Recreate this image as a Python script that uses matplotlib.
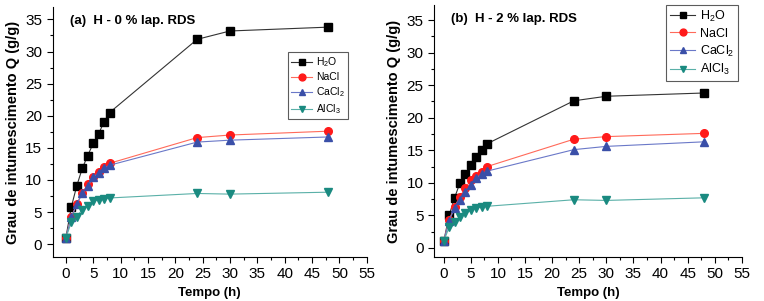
import matplotlib
matplotlib.use('Agg')
import matplotlib.pyplot as plt
from matplotlib.ticker import MultipleLocator

plt.rcParams['font.family'] = ['Liberation Sans', 'DejaVu Sans']
plt.rcParams['mathtext.default'] = 'regular'

# Time points (h)
tempo = [0, 1, 2, 3, 4, 5, 6, 7, 8, 24, 30, 48]

# Panel (a): H - 0 % lap. RDS
a_h2o = [1.0, 5.8, 9.1, 11.8, 13.8, 15.7, 17.2, 19.1, 20.5, 31.9, 33.2, 33.8]
a_nacl = [1.0, 4.2, 6.3, 8.0, 9.3, 10.5, 11.2, 12.0, 12.6, 16.6, 17.0, 17.6]
a_cacl2 = [1.0, 4.2, 6.2, 7.9, 9.0, 10.4, 11.1, 11.8, 12.3, 15.9, 16.2, 16.7]
a_alcl3 = [1.0, 3.4, 4.3, 5.4, 6.0, 6.7, 6.9, 7.0, 7.2, 7.9, 7.8, 8.1]

# Panel (b): H - 2 % lap. RDS
b_h2o = [1.0, 5.0, 7.7, 10.0, 11.3, 12.7, 13.9, 15.0, 16.0, 22.6, 23.3, 23.8]
b_nacl = [1.0, 4.3, 6.3, 7.9, 9.2, 10.4, 11.0, 11.7, 12.5, 16.7, 17.1, 17.6]
b_cacl2 = [1.0, 4.2, 6.1, 7.4, 8.6, 9.6, 10.7, 11.4, 11.8, 15.1, 15.6, 16.3]
b_alcl3 = [1.0, 3.2, 4.0, 4.8, 5.3, 5.8, 6.1, 6.3, 6.4, 7.4, 7.3, 7.7]

labels = ['H$_2$O', 'NaCl', 'CaCl$_2$', 'AlCl$_3$']
markers = ['s', 'o', '^', 'v']
mcolors = ['#000000', '#ff1a1a', '#3a4fa8', '#1a8a80']
lcolors = ['#333333', '#ff6a5a', '#6a78c8', '#5ab0a8']

fig = plt.figure(figsize=(7.64, 3.01), dpi=100)
ax_a = fig.add_axes([0.069, 0.146, 0.411, 0.83])
ax_b = fig.add_axes([0.568, 0.146, 0.403, 0.837])

# axes, data, title, xlim, ylim, legend upper-left anchor, legend font size
panels = [
    (ax_a, [a_h2o, a_nacl, a_cacl2, a_alcl3], '(a)  H - 0 % lap. RDS', (-2.4, 55), (-2, 36.9),
     (0.75, 0.82), 7.5),
    (ax_b, [b_h2o, b_nacl, b_cacl2, b_alcl3], '(b)  H - 2 % lap. RDS', (-1.8, 55), (-1.4, 37.3),
     (0.755, 1.0), 9),
]

for ax, series, title, xl, yl, anchor, lfs in panels:
    for vals, lab, mk, mc, lc in zip(series, labels, markers, mcolors, lcolors):
        ax.plot(tempo, vals, color=lc, linewidth=0.8, marker=mk, markersize=5.5,
                markerfacecolor=mc, markeredgecolor=mc, label=lab)
    ax.set_xlim(*xl)
    ax.set_ylim(*yl)
    ax.xaxis.set_major_locator(MultipleLocator(5))
    ax.xaxis.set_minor_locator(MultipleLocator(2.5))
    ax.yaxis.set_major_locator(MultipleLocator(5))
    ax.yaxis.set_minor_locator(MultipleLocator(2.5))
    ax.spines['top'].set_visible(False)
    ax.spines['right'].set_visible(False)
    ax.tick_params(axis='both', which='major', labelsize=11, length=4, width=0.8)
    ax.tick_params(axis='both', which='minor', length=2.5, width=0.8)
    ax.set_xlabel('Tempo (h)', fontsize=9.5, fontweight='bold')
    ax.set_ylabel('Grau de intumescimento Q (g/g)', fontsize=10.5, fontweight='bold')
    ax.text(0.055, 0.97, title, transform=ax.transAxes, fontsize=9.5,
            fontweight='bold', va='top', ha='left')
    leg = ax.legend(loc='upper left', bbox_to_anchor=anchor, fontsize=lfs,
                    frameon=True, fancybox=False, edgecolor='#333333',
                    handlelength=2.0, handletextpad=0.4, borderpad=0.3,
                    borderaxespad=0, labelspacing=0.3, markerscale=0.9)
    leg.get_frame().set_linewidth(0.8)

fig.savefig('out.png', dpi=100)
